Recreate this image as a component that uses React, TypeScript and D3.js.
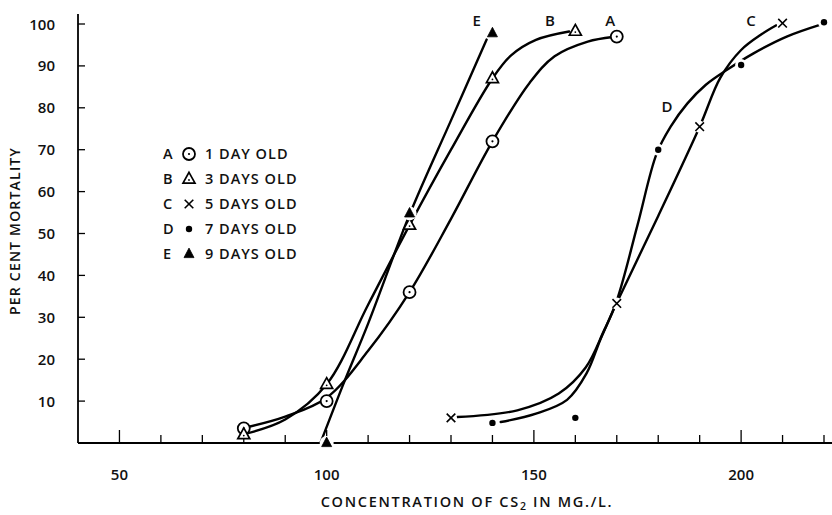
import React from "react";
import * as d3 from "d3";

// ---- Data ----
const xTicks = [50, 60, 70, 80, 90, 100, 110, 120, 130, 140, 150, 160, 170, 180, 190, 200, 210, 220];
const xTickLabels = [50, 100, 150, 200];
const yTicks = [10, 20, 30, 40, 50, 60, 70, 80, 90, 100];

// observed points
const aX = [80, 100, 120, 140, 170];
const aY = [3.5, 10, 36, 72, 97];
const bX = [80, 100, 120, 140, 160];
const bY = [2, 14, 52, 87, 98.3];
const cX = [130, 170, 190, 210];
const cY = [6, 33.3, 75.5, 100.2];
const dX = [140, 160, 180, 200, 220];
const dY = [4.8, 6, 70, 90.2, 100.4];
const eX = [100, 120, 140];
const eY = [0, 54.8, 97.8];

// hand-fitted curves
const fitAX = [80, 90, 100, 110, 120, 130, 140, 149, 155, 163, 169];
const fitAY = [3.6, 6.3, 10.8, 22, 36, 53.5, 72, 86, 92.3, 95.8, 96.9];
const fitBX = [80, 90, 100, 110, 120, 130, 140, 144.5, 150.5, 158.5];
const fitBY = [2.1, 5.6, 14, 33, 52, 70, 87, 92.5, 96.2, 98.2];
const fitCX = [131.5, 146, 156, 162.5, 167, 170, 180, 190, 195, 200, 205, 208.5];
const fitCY = [6.2, 7.8, 11.8, 18, 27, 33.5, 54.2, 75.5, 87.2, 93.8, 97.6, 99.7];
const fitDX = [142, 150.5, 158, 162.7, 166, 170, 175, 179.6, 183, 187, 191.5, 196.5, 203, 211, 219];
const fitDY = [5, 7, 10.3, 16.6, 24.6, 34, 52, 69, 75.5, 81, 85.5, 89, 93, 97, 99.8];
const fitEX = [98.5, 104, 110, 120, 130, 138.6];
const fitEY = [0, 14, 28.5, 54.5, 77, 96.3];

const legendKeys = ["A", "B", "C", "D", "E"];
const legendLabels = ["1 DAY OLD", "3 DAYS OLD", "5 DAYS OLD", "7 DAYS OLD", "9 DAYS OLD"];

const W = 832;
const H = 515;
const FONT = "'Open Sans', 'DejaVu Sans', sans-serif";

const x = d3.scaleLinear().domain([40, 220]).range([78, 824]);
const y = d3.scaleLinear().domain([0, 100]).range([443, 24]);

const zip = (xs: number[], ys: number[]) => xs.map((v, i) => [v, ys[i]] as [number, number]);

const line = d3
  .line<[number, number]>()
  .x((d) => x(d[0]))
  .y((d) => y(d[1]))
  .curve(d3.curveCatmullRom.alpha(0.5));

type Kind = "A" | "B" | "C" | "D" | "E";

function Marker({ kind, cx, cy }: { kind: Kind; cx: number; cy: number }) {
  if (kind === "A") {
    return (
      <g>
        <circle cx={cx} cy={cy} r={6} fill="#fff" stroke="#000" strokeWidth={1.8} />
        <circle cx={cx} cy={cy} r={1.1} fill="#000" />
      </g>
    );
  }
  if (kind === "B") {
    const s = 12;
    const h = s * 0.9;
    const p = `M${cx},${cy - h * 0.62} L${cx + s / 2},${cy + h * 0.38} L${cx - s / 2},${cy + h * 0.38} Z`;
    return (
      <g>
        <path d={p} fill="#fff" stroke="#000" strokeWidth={1.7} strokeLinejoin="miter" />
        <circle cx={cx} cy={cy + 1} r={0.9} fill="#000" />
      </g>
    );
  }
  if (kind === "C") {
    const r = 4.3;
    return (
      <g>
        <circle cx={cx} cy={cy} r={6} fill="#fff" />
        <path
          d={`M${cx - r},${cy - r} L${cx + r},${cy + r} M${cx - r},${cy + r} L${cx + r},${cy - r}`}
          stroke="#000"
          strokeWidth={1.6}
        />
      </g>
    );
  }
  if (kind === "D") {
    return (
      <g>
        <circle cx={cx} cy={cy} r={6} fill="#fff" />
        <circle cx={cx} cy={cy} r={3.2} fill="#000" />
      </g>
    );
  }
  const s = 10;
  const h = 9.5;
  const p = `M${cx},${cy - h * 0.62} L${cx + s / 2},${cy + h * 0.38} L${cx - s / 2},${cy + h * 0.38} Z`;
  return (
    <g>
      <circle cx={cx} cy={cy} r={7} fill="#fff" />
      <path d={p} fill="#000" stroke="#000" strokeWidth={0.8} />
    </g>
  );
}

export default function App() {
  const series: { kind: Kind; xs: number[]; ys: number[]; fx: number[]; fy: number[] }[] = [
    { kind: "A", xs: aX, ys: aY, fx: fitAX, fy: fitAY },
    { kind: "B", xs: bX, ys: bY, fx: fitBX, fy: fitBY },
    { kind: "C", xs: cX, ys: cY, fx: fitCX, fy: fitCY },
    { kind: "D", xs: dX, ys: dY, fx: fitDX, fy: fitDY },
    { kind: "E", xs: eX, ys: eY, fx: fitEX, fy: fitEY },
  ];

  const curveLabels: { t: string; vx: number; vy: number }[] = [
    { t: "E", vx: 136.2, vy: 99.6 },
    { t: "B", vx: 153.9, vy: 99.6 },
    { t: "A", vx: 168.4, vy: 99.6 },
    { t: "C", vx: 202.4, vy: 99.6 },
    { t: "D", vx: 182.1, vy: 78.9 },
  ];

  const textStyle = { fontFamily: FONT, fontWeight: 600, fill: "#111" } as const;

  return (
    <svg
      width={W}
      height={H}
      viewBox={`0 0 ${W} ${H}`}
      style={{ position: "absolute", left: 0, top: 0, background: "#fff" }}
    >
      <rect x={0} y={0} width={W} height={H} fill="#fff" />

      {/* axes */}
      <line x1={x(40)} y1={y(0)} x2={W} y2={y(0)} stroke="#000" strokeWidth={1.8} />
      <line x1={x(40)} y1={y(0)} x2={x(40)} y2={y(102.4)} stroke="#000" strokeWidth={1.8} />

      {xTicks.map((t) => {
        const major = xTickLabels.includes(t);
        return (
          <line
            key={"xt" + t}
            x1={x(t)}
            x2={x(t)}
            y1={y(0)}
            y2={y(0) - (major ? 13 : 8)}
            stroke="#000"
            strokeWidth={1.3}
          />
        );
      })}
      {xTickLabels.map((t) => (
        <text key={"xl" + t} x={x(t)} y={480} textAnchor="middle" fontSize={15} {...textStyle}>
          {t}
        </text>
      ))}

      {yTicks.map((t) => (
        <g key={"yt" + t}>
          <line x1={x(40)} x2={x(40) + 7} y1={y(t)} y2={y(t)} stroke="#000" strokeWidth={1.3} />
          <text x={55} y={y(t) + 5.5} textAnchor="end" fontSize={15} {...textStyle}>
            {t}
          </text>
        </g>
      ))}

      {/* axis titles */}
      <text x={467} y={507} textAnchor="middle" fontSize={14.5} letterSpacing={1.7} {...textStyle}>
        CONCENTRATION OF CS
        <tspan fontSize={10.5} dy={3}>2</tspan>
        <tspan dy={-3}> IN MG./L.</tspan>
      </text>
      <text
        transform={`translate(20,231) rotate(-90)`}
        textAnchor="middle"
        fontSize={14}
        letterSpacing={1.2}
        {...textStyle}
      >
        PER CENT MORTALITY
      </text>

      {/* fitted curves */}
      {series.map((s) => (
        <path
          key={"c" + s.kind}
          d={line(zip(s.fx, s.fy)) || ""}
          fill="none"
          stroke="#000"
          strokeWidth={2.4}
          strokeLinecap="round"
        />
      ))}

      {/* markers */}
      {series.map((s) =>
        zip(s.xs, s.ys).map((p, i) => (
          <Marker key={s.kind + i} kind={s.kind} cx={x(p[0])} cy={y(p[1])} />
        ))
      )}

      {/* curve labels */}
      {curveLabels.map((l) => (
        <text key={"lab" + l.t} x={x(l.vx)} y={y(l.vy)} textAnchor="middle" fontSize={15} {...textStyle}>
          {l.t}
        </text>
      ))}

      {/* legend */}
      {legendKeys.map((k, i) => {
        const by = 159 + 25 * i;
        return (
          <g key={"lg" + k}>
            <text x={163} y={by} fontSize={14.5} {...textStyle}>
              {k}
            </text>
            <Marker kind={k as Kind} cx={189} cy={by - 5} />
            <text x={205} y={by} fontSize={14.5} letterSpacing={1} {...textStyle}>
              {legendLabels[i]}
            </text>
          </g>
        );
      })}
    </svg>
  );
}
